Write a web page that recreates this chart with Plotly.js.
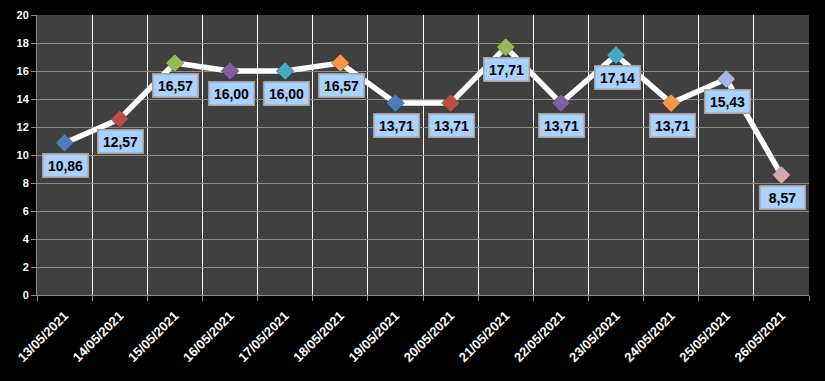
<!DOCTYPE html>
<html>
<head>
<meta charset="utf-8">
<script src="https://cdn.plot.ly/plotly-3.0.1.min.js"></script>
<style>html,body{margin:0;padding:0;background:#000;}#chart{width:825px;height:381px;}</style>
</head>
<body>
<div id="chart"></div>
<script>
const dates = ["13/05/2021","14/05/2021","15/05/2021","16/05/2021","17/05/2021","18/05/2021","19/05/2021","20/05/2021","21/05/2021","22/05/2021","23/05/2021","24/05/2021","25/05/2021","26/05/2021"];
const values = [10.86,12.57,16.57,16.00,16.00,16.57,13.71,13.71,17.71,13.71,17.14,13.71,15.43,8.57];
const markerColors = ["#4a7ebb","#be4b48","#98b954","#7d60a0","#46aac5","#f79646","#4a7ebb","#be4b48","#98b954","#7d60a0","#46aac5","#f79646","#a5b9e0","#d6a8a8"];
const yTicks = [0,2,4,6,8,10,12,14,16,18,20];

const trace = {
  type: "scatter", mode: "lines+markers",
  x: dates, y: values,
  line: {color: "#ffffff", width: 5.5},
  marker: {symbol: "diamond", size: 14, color: markerColors, line: {color: "rgba(0,0,0,0.25)", width: 1}},
  hoverinfo: "skip"
};

const annotations = dates.map((d, i) => ({
  x: d, y: values[i], xref: "x", yref: "y",
  text: values[i].toFixed(2).replace(".", ","),
  showarrow: false, yshift: -22.5, xshift: 1,
  width: 42, height: 20,
  font: {family: "Liberation Sans, Arial, sans-serif", size: 14, color: "#000", weight: "bold"},
  bgcolor: "#a9d1fb", bordercolor: "#a0a0a0", borderwidth: 1.5, borderpad: 1
}));

const layout = {
  width: 825, height: 381,
  paper_bgcolor: "#000000", plot_bgcolor: "#404040",
  margin: {l: 37, r: 16, t: 15, b: 86},
  showlegend: false,
  xaxis: {
    type: "category", tickson: "boundaries",
    showgrid: true, gridcolor: "#ffffff", gridwidth: 1,
    ticks: "outside", ticklen: 5, tickcolor: "#8c8c8c",
    showline: true, linecolor: "#8c8c8c", linewidth: 1,
    tickangle: -45, ticklabelstandoff: 7,
    tickfont: {family: "Liberation Sans, Arial, sans-serif", size: 13, color: "#ffffff", weight: "bold"},
    range: [-0.5, 13.5], fixedrange: true
  },
  yaxis: {
    range: [0, 20], tickvals: yTicks, ticktext: yTicks.map(String),
    showgrid: true, gridcolor: "#8c8c8c", gridwidth: 1,
    zeroline: false,
    ticks: "outside", ticklen: 5, tickcolor: "#8c8c8c",
    showline: true, linecolor: "#8c8c8c", linewidth: 1,
    tickfont: {family: "Liberation Sans, Arial, sans-serif", size: 11, color: "#ffffff", weight: "bold"},
    fixedrange: true
  },
  annotations: annotations
};

Plotly.newPlot("chart", [trace], layout, {displayModeBar: false, staticPlot: true});
</script>
</body>
</html>
